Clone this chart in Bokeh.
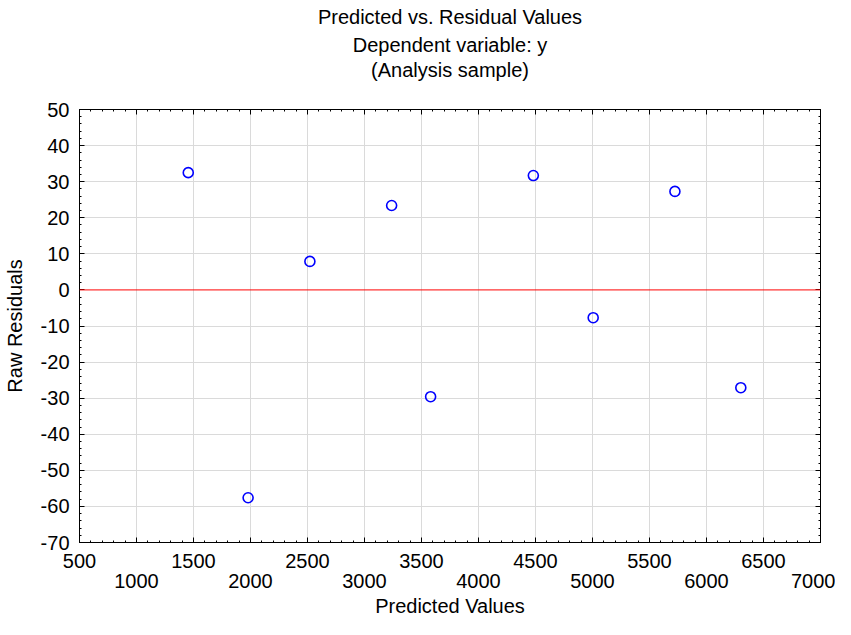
from bokeh.plotting import figure
from bokeh.models import (Range1d, LinearAxis, FixedTicker, Title, Span,
                          CustomLabelingPolicy)
from bokeh.embed import file_html
from bokeh.resources import INLINE

# ---- data ----
predicted = [1454, 1979, 2521, 3238, 3580, 4481, 5006, 5723, 6301]
residuals = [32.5, -57.6, 7.9, 23.4, -29.6, 31.7, -7.7, 27.3, -27.1]

x_major = [500, 1000, 1500, 2000, 2500, 3000, 3500, 4000, 4500, 5000, 5500, 6000, 6500, 7000]
x_row1 = [500, 1500, 2500, 3500, 4500, 5500, 6500]
x_row2 = [1000, 2000, 3000, 4000, 5000, 6000, 7000]
x_minor = list(range(500, 7001, 100))
y_major = [-70, -60, -50, -40, -30, -20, -10, 0, 10, 20, 30, 40, 50]
y_minor = list(range(-70, 51, 2))
zero_level = 0

title_lines = ["Predicted vs. Residual Values", "Dependent variable: y", "(Analysis sample)"]
x_label = "Predicted Values"
y_label = "Raw Residuals"

FONT = "Liberation Sans"
FS = "20px"

p = figure(width=835, height=619, output_backend="svg", toolbar_location=None,
           x_range=Range1d(500, 7000), y_range=Range1d(-70, 50), title=None,
           min_border_left=0, min_border_right=15, min_border_top=0, min_border_bottom=0)

p.outline_line_color = "black"
p.outline_line_width = 1
p.background_fill_color = "white"
p.border_fill_color = "white"

for g in (p.xgrid[0], p.ygrid[0]):
    g.grid_line_color = "#dadada"
    g.grid_line_width = 1
p.xgrid[0].ticker = FixedTicker(ticks=x_major)
p.ygrid[0].ticker = FixedTicker(ticks=[v for v in y_major if v != zero_level])

def style_axis(ax):
    ax.axis_line_color = "black"
    ax.major_tick_in = 5
    ax.major_tick_out = 0
    ax.minor_tick_in = 2
    ax.minor_tick_out = 0
    ax.major_tick_line_color = "black"
    ax.minor_tick_line_color = "black"
    ax.major_label_text_font = FONT
    ax.major_label_text_font_size = FS
    ax.major_label_text_color = "black"
    ax.axis_label_text_font = FONT
    ax.axis_label_text_font_size = FS
    ax.axis_label_text_font_style = "normal"
    ax.axis_label_text_color = "black"

hide_code = """
for (const i of Array.from(indices)) { indices.unset(i) }
return indices
"""

# bottom axis row 1
xa = p.xaxis[0]
style_axis(xa)
xa.ticker = FixedTicker(ticks=x_major, minor_ticks=x_minor)
xa.major_label_overrides = {v: ("" if v in x_row2 else str(v)) for v in x_major}
xa.major_label_standoff = 11

# bottom axis row 2 (staggered labels)
xa2 = LinearAxis(ticker=FixedTicker(ticks=x_row2))
style_axis(xa2)
xa2.axis_line_color = None
xa2.major_tick_line_color = None
xa2.minor_tick_line_color = None
xa2.major_label_standoff = 3
xa2.axis_label = x_label
xa2.axis_label_standoff = 4
p.add_layout(xa2, "below")

# left axis (hyphen-minus labels as in the reference)
ya = p.yaxis[0]
style_axis(ya)
ya.ticker = FixedTicker(ticks=y_major, minor_ticks=y_minor)
ya.major_label_overrides = {v: str(v) for v in y_major}
ya.axis_label = y_label
ya.major_label_standoff = 10
ya.axis_label_standoff = 12

# top axis: ticks only; its (never drawn) labels keep a gap under the title
xt = LinearAxis(ticker=FixedTicker(ticks=x_major, minor_ticks=x_minor))
style_axis(xt)
xt.major_label_standoff = 12
xt.major_label_policy = CustomLabelingPolicy(code=hide_code)
p.add_layout(xt, "above")

# right axis: ticks only
yr = LinearAxis(ticker=FixedTicker(ticks=y_major, minor_ticks=y_minor))
style_axis(yr)
yr.major_label_overrides = {v: "" for v in y_major}
yr.major_label_text_font_size = "1px"
yr.major_label_standoff = 0
yr.major_label_policy = CustomLabelingPolicy(code=hide_code)
p.add_layout(yr, "right")

# titles, added nearest-to-plot first
title_standoff = [6, 2, 0]
for t, s in reversed(list(zip(title_lines, title_standoff))):
    p.add_layout(Title(text=t, align="center", text_font=FONT, text_font_size=FS,
                       text_font_style="normal", text_color="black", standoff=s), "above")

# zero line
p.add_layout(Span(location=zero_level, dimension="width", line_color="#ff0000",
                  line_width=1, level="overlay"))

p.scatter(predicted, residuals, marker="circle", size=10, fill_color=None,
          line_color="blue", line_width=1.6)

open("out.html", "w").write(file_html(p, INLINE))
